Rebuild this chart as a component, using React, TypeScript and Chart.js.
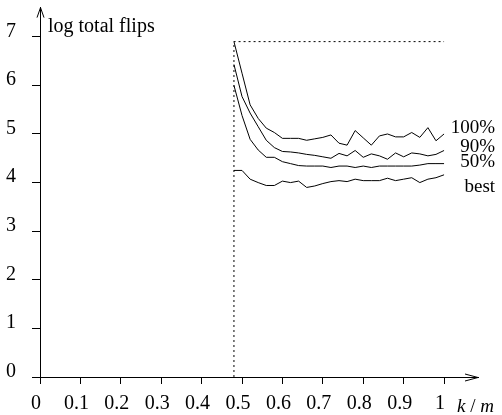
import React, { useEffect, useRef } from "react";
import { Chart, registerables } from "chart.js";

Chart.register(...registerables);

// ---- data ----
const kValues = [0.48, 0.5, 0.52, 0.54, 0.56, 0.58, 0.6, 0.62, 0.64, 0.66, 0.68, 0.7, 0.72, 0.74, 0.76, 0.78, 0.8, 0.82, 0.84, 0.86, 0.88, 0.9, 0.92, 0.94, 0.96, 0.98, 1.0];
const flips100 = [6.9, 6.25, 5.6, 5.32, 5.12, 5.03, 4.91, 4.91, 4.91, 4.87, 4.9, 4.93, 4.98, 4.81, 4.77, 5.07, 4.92, 4.77, 4.96, 5.0, 4.94, 4.94, 5.03, 4.93, 5.13, 4.86, 5.0];
const flips90 = [6.43, 5.77, 5.43, 5.15, 4.87, 4.72, 4.64, 4.63, 4.61, 4.58, 4.56, 4.53, 4.5, 4.6, 4.55, 4.66, 4.52, 4.59, 4.55, 4.48, 4.61, 4.53, 4.61, 4.59, 4.55, 4.58, 4.66];
const flips50 = [6.0, 5.38, 4.89, 4.67, 4.52, 4.52, 4.43, 4.39, 4.35, 4.34, 4.34, 4.34, 4.31, 4.34, 4.34, 4.31, 4.34, 4.31, 4.34, 4.34, 4.34, 4.34, 4.34, 4.36, 4.39, 4.39, 4.39];
const flipsBest = [4.25, 4.25, 4.07, 4.0, 3.94, 3.94, 4.03, 4.0, 4.03, 3.9, 3.93, 3.98, 4.02, 4.04, 4.02, 4.07, 4.04, 4.04, 4.04, 4.09, 4.04, 4.07, 4.1, 4.0, 4.07, 4.1, 4.16];
const seriesNames = ["100%", "90%", "50%", "best"];
const seriesLabelY = [5.12, 4.74, 4.43, 3.9];
const boundaryX = [0.48, 0.48, 1.0];
const boundaryY = [0, 6.9, 6.9];
const xTicks = [0, 0.1, 0.2, 0.3, 0.4, 0.5, 0.6, 0.7, 0.8, 0.9, 1];
const xTickLabels = ["0", "0.1", "0.2", "0.3", "0.4", "0.5", "0.6", "0.7", "0.8", "0.9", "1"];
const yTicks = [0, 1, 2, 3, 4, 5, 6, 7];
const yTickLabels = ["0", "1", "2", "3", "4", "5", "6", "7"];
const yTitle = "log total flips";
const xTitleParts = ["k", " / ", "m"];
const X_MAX = 1.084;
const Y_MAX = 7.6;

const FONT = "'Liberation Serif', 'Times New Roman', serif";
const FS_TICK = 20;
const FS_LABEL = 19;

const overlayPlugin = {
  id: "overlay",
  afterDraw(chart: any) {
    const { ctx, scales } = chart;
    const xs = scales.x;
    const ys = scales.y;
    const x0 = xs.getPixelForValue(0);
    const y0 = ys.getPixelForValue(0);
    const xEnd = xs.getPixelForValue(X_MAX);
    const yEnd = ys.getPixelForValue(Y_MAX);
    ctx.save();
    ctx.strokeStyle = "#000";
    ctx.lineWidth = 1;
    // arrowheads
    const ax = Math.round(x0) + 0.5;
    const ay = Math.round(y0) + 0.5;
    ctx.beginPath();
    ctx.moveTo(ax - 3.5, yEnd + 10);
    ctx.lineTo(ax, yEnd);
    ctx.lineTo(ax + 3.5, yEnd + 10);
    ctx.stroke();
    ctx.beginPath();
    ctx.moveTo(xEnd - 13, ay - 3.5);
    ctx.lineTo(xEnd, ay);
    ctx.lineTo(xEnd - 13, ay + 3.5);
    ctx.stroke();

    ctx.fillStyle = "#000";
    ctx.font = `${FS_TICK}px ${FONT}`;
    ctx.textBaseline = "alphabetic";
    ctx.textAlign = "left";
    // y title
    ctx.fillText(yTitle, x0 + 8, ys.getPixelForValue(7) - 5);
    // x title
    let tx = xs.getPixelForValue(1) + 13;
    const ty = y0 + 34.5;
    xTitleParts.forEach((p, i) => {
      ctx.font = (i === 1 ? "" : "italic ") + `${FS_LABEL}px ${FONT}`;
      ctx.fillText(p, tx, ty);
      tx += ctx.measureText(p).width;
    });
    // series labels
    ctx.font = `${FS_LABEL}px ${FONT}`;
    ctx.textAlign = "right";
    ctx.textBaseline = "middle";
    seriesNames.forEach((n, i) => {
      ctx.fillText(n, xs.getPixelForValue(1) + 51, ys.getPixelForValue(seriesLabelY[i]));
    });
    ctx.restore();
  },
};

export default function App() {
  const ref = useRef<HTMLCanvasElement | null>(null);
  useEffect(() => {
    if (!ref.current) return;
    const mk = (arr: number[]) => kValues.map((k, i) => ({ x: k, y: arr[i] }));
    const lineStyle = { borderColor: "#000", borderWidth: 1, pointRadius: 0, tension: 0, fill: false };
    const chart = new Chart(ref.current, {
      type: "line",
      data: {
        datasets: [
          { ...lineStyle, data: mk(flips100) },
          { ...lineStyle, data: mk(flips90) },
          { ...lineStyle, data: mk(flips50) },
          { ...lineStyle, data: mk(flipsBest) },
          { ...lineStyle, borderDash: [2, 3], data: boundaryX.map((x, i) => ({ x, y: boundaryY[i] })) },
        ],
      },
      options: {
        animation: false,
        responsive: false,
        devicePixelRatio: 1,
        layout: { padding: { left: 0, right: 24, top: 7.6, bottom: 0 } },
        plugins: { legend: { display: false }, tooltip: { enabled: false }, title: { display: false } },
        scales: {
          x: {
            type: "linear",
            min: 0,
            max: X_MAX,
            afterBuildTicks: (s: any) => { s.ticks = xTicks.map((v) => ({ value: v })); },
            afterFit: (s: any) => { s.height = 38; s.paddingLeft = 0; s.paddingRight = 0; },
            grid: { display: true, drawOnChartArea: false, drawTicks: true, tickLength: 7, tickColor: "#000", color: "#000" },
            border: { display: true, color: "#000", width: 1 },
            ticks: {
              color: "#000",
              font: { family: FONT, size: FS_TICK },
              padding: 8,
              labelOffset: -4,
              maxRotation: 0,
              autoSkip: false,
              callback: (_v: any, i: number) => xTickLabels[i],
            },
          },
          y: {
            type: "linear",
            min: 0,
            max: Y_MAX,
            afterBuildTicks: (s: any) => { s.ticks = yTicks.map((v) => ({ value: v })); },
            afterFit: (s: any) => { s.width = 40; s.paddingTop = 0; s.paddingBottom = 0; },
            grid: { display: true, drawOnChartArea: false, drawTicks: true, tickLength: 8, tickColor: "#000", color: "#000" },
            border: { display: true, color: "#000", width: 1 },
            ticks: {
              color: "#000",
              font: { family: FONT, size: FS_TICK },
              padding: 16,
              labelOffset: -5.5,
              autoSkip: false,
              callback: (_v: any, i: number) => yTickLabels[i],
            },
          },
        },
      },
      plugins: [overlayPlugin],
    });
    return () => chart.destroy();
  }, []);
  return (
    <div style={{ position: "fixed", left: 0, top: 0, width: 502, height: 415, background: "#fff" }}>
      <canvas ref={ref} width={502} height={415} style={{ width: 502, height: 415 }} />
    </div>
  );
}
